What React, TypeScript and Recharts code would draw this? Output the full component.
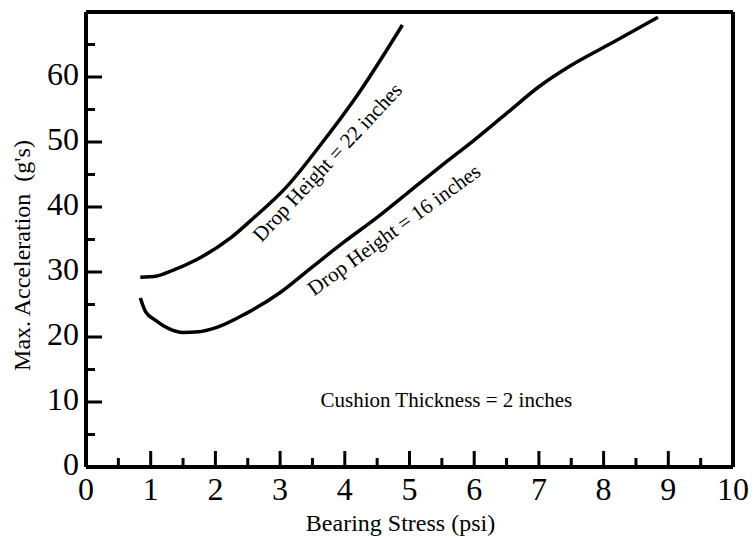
import React from 'react';
import { LineChart, Line, XAxis, YAxis, ReferenceLine, ReferenceDot, Label } from 'recharts';

// axis ticks
const xMajorTicks = [0, 1, 2, 3, 4, 5, 6, 7, 8, 9, 10];
const xMinorTicks = [0.5, 1.5, 2.5, 3.5, 4.5, 5.5, 6.5, 7.5, 8.5, 9.5];
const yMajorTicks = [0, 10, 20, 30, 40, 50, 60];
const yMinorTicks = [5, 15, 25, 35, 45, 55, 65];

// Drop height = 22 inches
const drop22Stress = [0.84, 1.1, 1.33, 1.69, 2.23, 2.59, 3.1, 3.62, 4.18, 4.89];
const drop22Accel = [29.2, 29.4, 30.2, 31.8, 35.2, 38.3, 43.1, 49.5, 57.0, 68.0];

// Drop height = 16 inches
const drop16Stress = [0.84, 0.92, 1.07, 1.28, 1.5, 1.74, 2.0, 2.47, 2.98, 3.5, 4.0, 4.5, 5.0, 5.5, 6.0, 6.5, 7.0, 7.5, 8.14, 8.84];
const drop16Accel = [26.0, 23.9, 22.6, 21.3, 20.7, 20.8, 21.4, 23.6, 26.7, 30.8, 34.7, 38.4, 42.4, 46.4, 50.3, 54.4, 58.5, 61.8, 65.3, 69.2];

const drop22 = drop22Stress.map((x, i) => ({ stress: x, accel: drop22Accel[i] }));
const drop16 = drop16Stress.map((x, i) => ({ stress: x, accel: drop16Accel[i] }));

const FONT = '"Liberation Serif", "Times New Roman", serif';

const XTick = (props: any) => {
  const { x, y, payload } = props;
  const v = payload.value;
  const major = xMajorTicks.includes(v);
  return (
    <g>
      {v > 0 && v < 10 && (
        <line x1={x} x2={x} y1={y} y2={y - (major ? 16 : 9)} stroke="#000" strokeWidth={3} />
      )}
      {major && (
        <text x={x} y={y + 22} textAnchor="middle" dominantBaseline="central" fontFamily={FONT} fontSize={32} fill="#000">
          {v}
        </text>
      )}
    </g>
  );
};

const YTick = (props: any) => {
  const { x, y, payload } = props;
  const v = payload.value;
  const major = yMajorTicks.includes(v);
  return (
    <g>
      {v > 0 && (
        <line x1={x} x2={x + (major ? 16 : 9)} y1={y} y2={y} stroke="#000" strokeWidth={3} />
      )}
      {major && (
        <text x={x - 7} y={y - 3} textAnchor="end" dominantBaseline="central" fontFamily={FONT} fontSize={32} fill="#000">
          {v}
        </text>
      )}
    </g>
  );
};

const rotatedText = (text: string, angle: number) => (p: any) => (
  <text
    x={p.cx}
    y={p.cy}
    transform={`rotate(${angle} ${p.cx} ${p.cy})`}
    textAnchor="middle"
    dominantBaseline="central"
    fontFamily={FONT}
    fontSize={21}
    fill="#000"
  >
    {text}
  </text>
);

export default function App() {
  return (
    <div style={{ position: 'absolute', left: 0, top: 0, background: '#fff' }}>
      <LineChart width={756} height={539} margin={{ top: 12, right: 23, bottom: 12, left: 10 }}>
        <XAxis
          type="number"
          dataKey="stress"
          domain={[0, 10]}
          ticks={[...xMajorTicks, ...xMinorTicks].sort((a, b) => a - b)}
          interval={0}
          tickSize={0}
          tickMargin={0}
          tick={<XTick />}
          tickLine={false}
          height={60}
          axisLine={{ stroke: '#000', strokeWidth: 4 }}
          allowDataOverflow
        >
          <Label
            content={(p: any) => {
              const vb = p.viewBox;
              return (
                <text x={vb.x + vb.width / 2 - 9} y={vb.y + 56} textAnchor="middle" dominantBaseline="central" fontFamily={FONT} fontSize={24} fill="#000">
                  Bearing Stress (psi)
                </text>
              );
            }}
          />
        </XAxis>
        <YAxis
          type="number"
          dataKey="accel"
          domain={[0, 70]}
          ticks={[...yMajorTicks, ...yMinorTicks].sort((a, b) => a - b)}
          interval={0}
          tickSize={0}
          tickMargin={0}
          tick={<YTick />}
          tickLine={false}
          width={76}
          axisLine={{ stroke: '#000', strokeWidth: 4 }}
          allowDataOverflow
        >
          <Label
            content={(p: any) => {
              const vb = p.viewBox;
              const cx = vb.x + 12;
              const cy = vb.y + vb.height / 2 + 16;
              return (
                <text x={cx} y={cy} transform={`rotate(-90 ${cx} ${cy})`} textAnchor="middle" dominantBaseline="central" fontFamily={FONT} fontSize={24} fill="#000">
                  {"Max. Acceleration\u00a0\u00a0(g's)"}
                </text>
              );
            }}
          />
        </YAxis>
        <ReferenceLine y={70} stroke="#000" strokeWidth={4} />
        <ReferenceLine x={10} stroke="#000" strokeWidth={4} />
        <Line data={drop22} dataKey="accel" type="monotone" stroke="#000" strokeWidth={3.5} dot={false} isAnimationActive={false} />
        <Line data={drop16} dataKey="accel" type="monotone" stroke="#000" strokeWidth={3.5} dot={false} isAnimationActive={false} />
        <ReferenceDot x={3.73} y={46.9} r={0} shape={rotatedText('Drop Height = 22 inches', -47)} />
        <ReferenceDot x={4.76} y={36.5} r={0} shape={rotatedText('Drop Height = 16 inches', -36)} />
        <ReferenceDot x={5.57} y={10.3} r={0} shape={rotatedText('Cushion Thickness = 2 inches', 0)} />
      </LineChart>
    </div>
  );
}
